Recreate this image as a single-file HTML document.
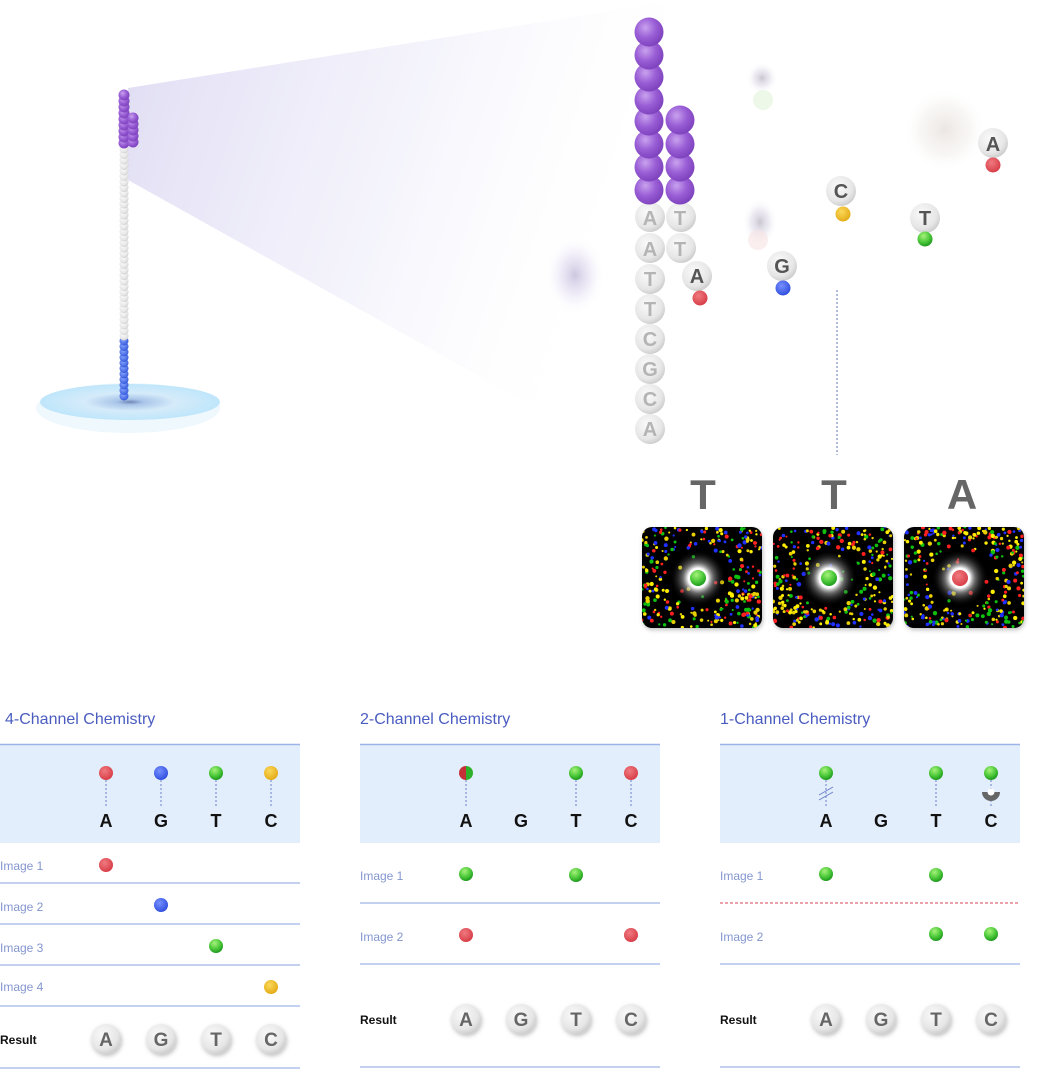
<!DOCTYPE html>
<html><head><meta charset="utf-8">
<style>
html,body{margin:0;padding:0;background:#fff;}
body{width:1042px;height:1069px;overflow:hidden;}
svg{display:block;}
text{font-family:"Liberation Sans",sans-serif;}
</style></head>
<body>
<svg id="s" width="1042" height="1069" viewBox="0 0 1042 1069" xmlns="http://www.w3.org/2000/svg">
<defs>
<radialGradient id="pur" cx="0.38" cy="0.35" r="0.7"><stop offset="0" stop-color="#c9a2ee"/><stop offset="0.5" stop-color="#9a5fd6"/><stop offset="1" stop-color="#7a3fba"/></radialGradient>
<radialGradient id="wht" cx="0.4" cy="0.35" r="0.7"><stop offset="0" stop-color="#fafafa"/><stop offset="0.7" stop-color="#e6e6e6"/><stop offset="1" stop-color="#c8c8c8"/></radialGradient>
<radialGradient id="blu" cx="0.4" cy="0.35" r="0.7"><stop offset="0" stop-color="#8aa6ff"/><stop offset="1" stop-color="#2f55d8"/></radialGradient>
<radialGradient id="red" cx="0.4" cy="0.35" r="0.7"><stop offset="0" stop-color="#f07a80"/><stop offset="1" stop-color="#d63a44"/></radialGradient>
<radialGradient id="grn" cx="0.4" cy="0.3" r="0.7"><stop offset="0" stop-color="#a6f27a"/><stop offset="0.6" stop-color="#4cc83a"/><stop offset="1" stop-color="#1e9a1e"/></radialGradient>
<radialGradient id="yel" cx="0.4" cy="0.35" r="0.7"><stop offset="0" stop-color="#fbd85a"/><stop offset="1" stop-color="#e2a812"/></radialGradient>
<radialGradient id="bl2" cx="0.4" cy="0.35" r="0.7"><stop offset="0" stop-color="#7790ff"/><stop offset="1" stop-color="#2c4bdc"/></radialGradient>
<linearGradient id="cone" x1="0" y1="0" x2="1" y2="0.25"><stop offset="0" stop-color="#dcd8f2" stop-opacity="0.9"/><stop offset="0.55" stop-color="#ecebf9" stop-opacity="0.55"/><stop offset="1" stop-color="#ffffff" stop-opacity="0"/></linearGradient>
<radialGradient id="disk" cx="0.5" cy="0.5" r="0.5"><stop offset="0" stop-color="#6f86b8"/><stop offset="0.15" stop-color="#a8c4e8"/><stop offset="0.5" stop-color="#d5ebfa"/><stop offset="1" stop-color="#bfe6fb"/></radialGradient>
<radialGradient id="blob" cx="0.5" cy="0.5" r="0.5"><stop offset="0" stop-color="#c4c0cc" stop-opacity="0.9"/><stop offset="0.5" stop-color="#dcd8e6" stop-opacity="0.5"/><stop offset="1" stop-color="#fff" stop-opacity="0"/></radialGradient>
<radialGradient id="blobP" cx="0.5" cy="0.5" r="0.5"><stop offset="0" stop-color="#c8c0dc" stop-opacity="0.9"/><stop offset="0.5" stop-color="#e0daf0" stop-opacity="0.5"/><stop offset="1" stop-color="#fff" stop-opacity="0"/></radialGradient>
<radialGradient id="blobW" cx="0.5" cy="0.5" r="0.5"><stop offset="0" stop-color="#e6e0dc" stop-opacity="0.8"/><stop offset="0.6" stop-color="#f2eeec" stop-opacity="0.5"/><stop offset="1" stop-color="#fff" stop-opacity="0"/></radialGradient>
<radialGradient id="glow" cx="0.5" cy="0.5" r="0.5"><stop offset="0" stop-color="#fff"/><stop offset="0.35" stop-color="#fff"/><stop offset="0.55" stop-color="#aaa" stop-opacity="0.6"/><stop offset="1" stop-color="#000" stop-opacity="0"/></radialGradient>
<filter id="sh" x="-20%" y="-20%" width="140%" height="140%"><feDropShadow dx="1" dy="2" stdDeviation="2" flood-color="#000" flood-opacity="0.25"/></filter>
</defs>

<polygon points="128,88 680,0 680,60 540,410 128,180" fill="url(#cone)"/>

<ellipse cx="128" cy="408" rx="92" ry="25" fill="#eef8fd"/>
<ellipse cx="130" cy="402" rx="90" ry="18" fill="url(#disk)"/>
<g id="strand"></g>

<ellipse cx="575" cy="275" rx="30" ry="40" fill="url(#blobP)"/>
<circle cx="762" cy="78" r="16" fill="url(#blob)"/>
<circle cx="763" cy="100" r="10" fill="#e6f5e0" opacity="0.7"/>
<ellipse cx="760" cy="222" rx="18" ry="24" fill="url(#blob)"/>
<circle cx="758" cy="240" r="10" fill="#f9e2e2" opacity="0.6"/>
<ellipse cx="945" cy="130" rx="42" ry="42" fill="url(#blobW)"/>

<g id="beads"></g>

<g font-size="20" font-weight="bold" fill="#b4b4b4" text-anchor="middle">
<text x="650" y="225">A</text><text x="650" y="256">A</text><text x="650" y="286">T</text><text x="650" y="316">T</text>
<text x="650" y="346">C</text><text x="650" y="376">G</text><text x="650" y="406">C</text><text x="650" y="436">A</text>
<text x="680" y="225">T</text><text x="680" y="256">T</text>
</g>
<g font-size="20" font-weight="bold" fill="#555" text-anchor="middle">
<text x="697" y="283">A</text><text x="782" y="273">G</text><text x="841" y="198">C</text><text x="925" y="225">T</text><text x="993" y="151">A</text>
</g>

<line x1="837" y1="290" x2="837" y2="455" stroke="#6677bb" stroke-width="1" stroke-dasharray="2,2"/>

<g font-size="42" font-weight="bold" fill="#666" text-anchor="middle">
<text x="703" y="509">T</text><text x="834" y="509">T</text><text x="962" y="509">A</text>
</g>
<g id="imgs"></g>

<g id="tables"></g>
<g font-size="16" fill="#4a5cc0">
<text x="5" y="724">4-Channel Chemistry</text>
<text x="360" y="724">2-Channel Chemistry</text>
<text x="720" y="724">1-Channel Chemistry</text>
</g>
<g font-size="18" font-weight="bold" fill="#111" text-anchor="middle">
<text x="106" y="827">A</text><text x="161" y="827">G</text><text x="216" y="827">T</text><text x="271" y="827">C</text>
<text x="466" y="827">A</text><text x="521" y="827">G</text><text x="576" y="827">T</text><text x="631" y="827">C</text>
<text x="826" y="827">A</text><text x="881" y="827">G</text><text x="936" y="827">T</text><text x="991" y="827">C</text>
</g>
<g font-size="12" fill="#8496d0">
<text x="0" y="870">Image 1</text><text x="0" y="911">Image 2</text><text x="0" y="952">Image 3</text><text x="0" y="991">Image 4</text>
<text x="360" y="880">Image 1</text><text x="360" y="941">Image 2</text>
<text x="720" y="880">Image 1</text><text x="720" y="941">Image 2</text>
</g>
<g font-size="12" font-weight="bold" fill="#111">
<text x="0" y="1044">Result</text><text x="360" y="1024">Result</text><text x="720" y="1024">Result</text>
</g>
<g font-size="19" font-weight="bold" fill="#666" text-anchor="middle">
<text x="106" y="1046">A</text><text x="161" y="1046">G</text><text x="216" y="1046">T</text><text x="271" y="1046">C</text>
<text x="466" y="1026">A</text><text x="521" y="1026">G</text><text x="576" y="1026">T</text><text x="631" y="1026">C</text>
<text x="826" y="1026">A</text><text x="881" y="1026">G</text><text x="936" y="1026">T</text><text x="991" y="1026">C</text>
</g>
</svg>
<script>
(function(){
var NS="http://www.w3.org/2000/svg";
function el(p,t,a){var e=document.createElementNS(NS,t);for(var k in a)e.setAttribute(k,a[k]);p.appendChild(e);return e;}
var st=document.getElementById('strand');
for(var y=396;y>=338;y-=5.5)el(st,'circle',{cx:124,cy:y,r:4.5,fill:'url(#blu)'});
for(var y=336;y>=145;y-=5.5)el(st,'circle',{cx:124,cy:y,r:4.5,fill:'url(#wht)'});
for(var y=143;y>=93;y-=6)el(st,'circle',{cx:124,cy:y,r:5.5,fill:'url(#pur)'});
for(var y=142;y>=113;y-=6)el(st,'circle',{cx:133,cy:y,r:5.5,fill:'url(#pur)'});
var b=document.getElementById('beads');
[429,399,369,339,309,279,248,217].forEach(function(y){el(b,'circle',{cx:650,cy:y,r:15,fill:'url(#wht)'});});
[248,217].forEach(function(y){el(b,'circle',{cx:681,cy:y,r:15,fill:'url(#wht)'});});
[190,167,144,121,100,77,55,32].forEach(function(y){el(b,'circle',{cx:649,cy:y,r:14.5,fill:'url(#pur)'});});
[190,167,144,120].forEach(function(y){el(b,'circle',{cx:680,cy:y,r:14.5,fill:'url(#pur)'});});
[[697,276,700,298,'red'],[782,266,783,288,'bl2'],[841,191,843,214,'yel'],[925,218,925,239,'grn'],[993,143,993,165,'red']].forEach(function(q){
el(b,'circle',{cx:q[0],cy:q[1],r:15,fill:'url(#wht)'});
el(b,'circle',{cx:q[2],cy:q[3],r:7.5,fill:'url(#'+q[4]+')'});});
var seed=7;function rnd(){seed=(seed*16807)%2147483647;return seed/2147483647;}
var g=document.getElementById('imgs');
var cols=['#ffee00','#ff2020','#2030ff','#10c010','#e8d000'];
[[642,'grn'],[773,'grn'],[904,'red']].forEach(function(q){
var x=q[0],y=527,w=120,h=101;
el(g,'rect',{x:x,y:y,width:w,height:h,rx:10,fill:'#000',filter:'url(#sh)'});
var cp=el(g,'clipPath',{id:'c'+x});el(cp,'rect',{x:x,y:y,width:w,height:h,rx:10});
var gg=el(g,'g',{'clip-path':'url(#c'+x+')'});
for(var i=0;i<380;i++){var px=x+rnd()*w,py=y+rnd()*h;var dx=px-(x+56),dy=py-(y+51);if(dx*dx+dy*dy<1000&&rnd()<0.85)continue;
el(gg,'circle',{cx:px,cy:py,r:1+rnd()*1.2,fill:cols[Math.floor(rnd()*5)]});}
el(gg,'circle',{cx:x+56,cy:y+51,r:28,fill:'url(#glow)'});
el(gg,'circle',{cx:x+56,cy:y+51,r:8,fill:'url(#'+q[1]+')'});
});
var t=document.getElementById('tables');
[0,360,720].forEach(function(ox){
el(t,'rect',{x:ox,y:744,width:300,height:99,fill:'#e2eefb'});
el(t,'line',{x1:ox,y1:744.5,x2:ox+300,y2:744.5,stroke:'#9fb4e6','stroke-width':1.5});
});
function hl(ox,y,c,d){var a={x1:ox,y1:y,x2:ox+300,y2:y,stroke:c||'#9fb4e6','stroke-width':1.3};if(d)a['stroke-dasharray']='3,2';el(t,'line',a);}
[883,924,965,1006,1068].forEach(function(y){hl(0,y);});
[903,964,1067].forEach(function(y){hl(360,y);});
hl(720,903,'#e06a78',1);[964,1067].forEach(function(y){hl(720,y);});
function dot(x,y,c){el(t,'circle',{cx:x,cy:y,r:7,fill:'url(#'+c+')'});}
function vl(x,y1,y2){el(t,'line',{x1:x,y1:y1,x2:x,y2:y2,stroke:'#6a80cc','stroke-width':1,'stroke-dasharray':'2,2'});}
[[106,'red'],[161,'bl2'],[216,'grn'],[271,'yel']].forEach(function(q){vl(q[0],780,808);dot(q[0],773,q[1]);});
dot(106,865,'red');dot(161,905,'bl2');dot(216,946,'grn');dot(271,987,'yel');
[466,576,631].forEach(function(x){vl(x,780,808);});
el(t,'path',{d:'M466,766 a7,7 0 0 0 0,14 z',fill:'#c53038'});
el(t,'path',{d:'M466,766 a7,7 0 0 1 0,14 z',fill:'#2fb02a'});
dot(576,773,'grn');dot(631,773,'red');
dot(466,874,'grn');dot(576,875,'grn');dot(466,935,'red');dot(631,935,'red');
[826,936,991].forEach(function(x){vl(x,780,808);});
dot(826,773,'grn');dot(936,773,'grn');dot(991,773,'grn');
el(t,'line',{x1:819,y1:795,x2:833,y2:787,stroke:'#6a80cc','stroke-width':1});
el(t,'line',{x1:819,y1:800,x2:833,y2:792,stroke:'#6a80cc','stroke-width':1});
el(t,'path',{d:'M982,792 a9,9 0 0 0 18,0 z',fill:'#666'});
el(t,'circle',{cx:991,cy:792,r:3.5,fill:'#fff'});
dot(826,874,'grn');dot(936,875,'grn');dot(936,934,'grn');dot(991,934,'grn');
[[0,1039],[360,1019],[720,1019]].forEach(function(q){[106,161,216,271].forEach(function(x){
el(t,'circle',{cx:q[0]+x,cy:q[1],r:15,fill:'url(#wht)',filter:'url(#sh)'});});});
})();
</script>
</body></html>
